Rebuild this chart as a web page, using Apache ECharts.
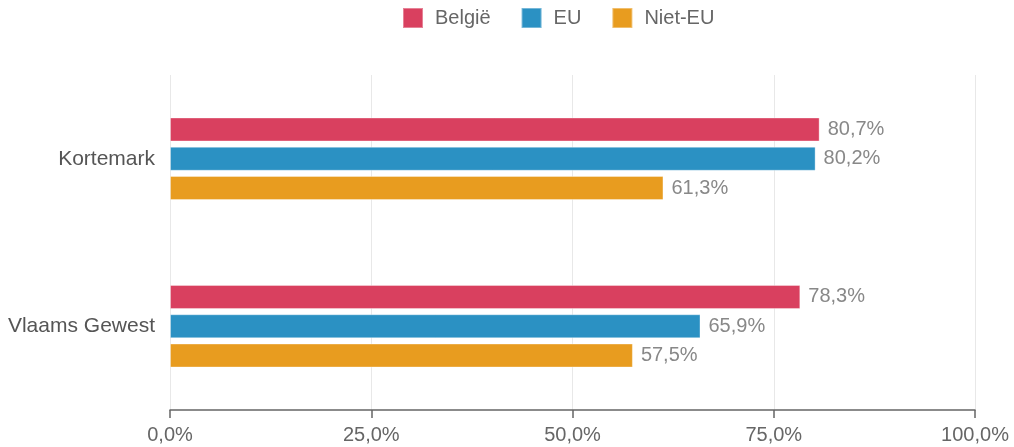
<!DOCTYPE html>
<html><head><meta charset="utf-8">
<script src="https://cdn.jsdelivr.net/npm/echarts@6/dist/echarts.min.js"></script>
<style>html,body{margin:0;padding:0;background:#fff}#c{width:1014px;height:447px}</style>
</head><body><div id="c"></div>
<script>
const categories = ['Kortemark', 'Vlaams Gewest'];
const seriesNames = ['België', 'EU', 'Niet-EU'];
const belgie = [80.7, 78.3];
const eu = [80.2, 65.9];
const nietEu = [61.3, 57.5];
const colors = ['#d9405f', '#2b91c3', '#e89c1f'];
const xTicks = [0, 25, 50, 75, 100];

const fmt = v => v.toFixed(1).replace('.', ',') + '%';
const FONT = '"Liberation Sans", Arial, sans-serif';
const data = [belgie, eu, nietEu];

const chart = echarts.init(document.getElementById('c'));
chart.setOption({
  animation: false,
  textStyle: { fontFamily: FONT },
  legend: {
    top: 2, left: 397,
    itemWidth: 20, itemHeight: 20, itemGap: 30,
    icon: 'rect',
    textStyle: { fontSize: 20, color: '#666', fontFamily: FONT, padding: [0, 0, 0, 7] },
    data: seriesNames
  },
  grid: { left: 170, right: 39, top: 75, bottom: 37, containLabel: false },
  xAxis: {
    type: 'value', min: 0, max: 100, interval: 25,
    axisLine: { show: true, lineStyle: { color: '#666', width: 1.5 } },
    axisTick: { show: true, length: 8, lineStyle: { color: '#666', width: 1.5 } },
    axisLabel: { fontSize: 20, color: '#666', margin: 15, formatter: v => xTicks.includes(v) ? fmt(v) : '' },
    splitLine: { show: true, lineStyle: { color: '#e8e8e8', width: 1 } }
  },
  yAxis: {
    type: 'category', data: categories, inverse: true,
    axisLine: { show: false }, axisTick: { show: false },
    axisLabel: { fontSize: 21, color: '#555', margin: 15 }
  },
  series: seriesNames.map((n, i) => ({
    name: n, type: 'bar', data: data[i],
    barWidth: 24, barGap: '22%',
    itemStyle: { color: colors[i], borderColor: 'rgba(255,255,255,0.35)', borderWidth: 1 },
    label: { show: true, position: 'right', distance: 8, fontSize: 20, color: '#888', fontFamily: FONT, formatter: p => fmt(p.value) }
  }))
});
</script></body></html>
